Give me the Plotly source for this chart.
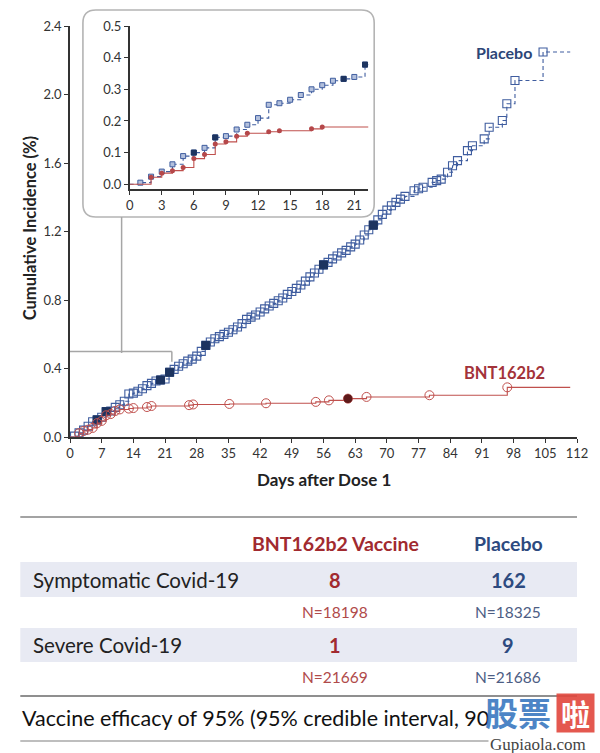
import plotly.graph_objects as go

# ---------------- data ----------------
placebo_days = [0, 1, 2, 3, 4, 5, 6, 7, 8, 9, 10, 11, 12, 13, 14, 15, 16, 17, 18, 19, 20, 21, 22,
                23, 24, 25, 26, 27, 28, 29, 30, 31, 32, 33, 34, 35, 36, 37, 38, 39, 40, 41, 42,
                43, 44, 45, 46, 47, 48, 49, 50, 51, 52, 53, 54, 55, 56, 57, 58, 59, 60, 61, 62,
                63, 64, 65, 66, 67, 68, 69, 70, 71, 72, 73, 74, 76, 77, 78, 80, 81, 82, 83.4,
                84.5, 85.6, 87.8, 88.9, 91.5, 92.6, 95.5, 96.5, 98.3, 104.5]
placebo_cum = [0.0, 0.005, 0.024, 0.040, 0.063, 0.089, 0.100, 0.115, 0.148, 0.152, 0.173, 0.188,
               0.209, 0.251, 0.256, 0.267, 0.282, 0.300, 0.313, 0.327, 0.333, 0.339, 0.378,
               0.395, 0.413, 0.428, 0.443, 0.455, 0.472, 0.500, 0.535, 0.555, 0.574, 0.586,
               0.599, 0.612, 0.626, 0.642, 0.662, 0.687, 0.700, 0.712, 0.730, 0.748, 0.765,
               0.780, 0.796, 0.812, 0.833, 0.850, 0.868, 0.888, 0.910, 0.935, 0.958, 0.980,
               1.005, 1.020, 1.040, 1.057, 1.075, 1.090, 1.110, 1.126, 1.150, 1.180, 1.210,
               1.237, 1.268, 1.300, 1.325, 1.350, 1.370, 1.389, 1.405, 1.438, 1.450, 1.458,
               1.487, 1.497, 1.506, 1.546, 1.584, 1.614, 1.672, 1.701, 1.741, 1.809, 1.848,
               1.946, 2.082, 2.248]
placebo_end_day = 110.5
placebo_severe_days = [6, 8, 20, 22, 30, 56, 67]

vaccine_days = [0, 2, 3, 4, 5, 6, 7, 8, 9, 10, 11, 13, 14, 17, 18, 26.3, 27.2, 35.2, 43.3,
                54.3, 57.2, 61.4, 65.5, 79.4, 96.6]
vaccine_cum = [0.0, 0.022, 0.035, 0.043, 0.053, 0.081, 0.094, 0.127, 0.134, 0.152, 0.161,
               0.166, 0.169, 0.175, 0.181, 0.186, 0.190, 0.193, 0.197, 0.205, 0.214, 0.224,
               0.234, 0.244, 0.290]
vaccine_end_day = 110.5
vaccine_severe_days = [61.4]

main_xticks = list(range(0, 113, 7))
main_yticks = [0.0, 0.4, 0.8, 1.2, 1.6, 2.0, 2.4]
inset_xticks = list(range(0, 22, 3))
inset_yticks = [0.0, 0.1, 0.2, 0.3, 0.4, 0.5]

table_groups = ["BNT162b2 Vaccine", "Placebo"]
table_rows = ["Symptomatic Covid-19", "Severe Covid-19"]
table_cases = [[8, 162], [1, 9]]
table_n = [[18198, 18325], [21669, 21686]]
efficacy_text = "Vaccine efficacy of 95% (95% credible interval, 90"

# ---------------- styling ----------------
FONT = "Lato"
BLUE = "#3f5d9f"
NAVY = "#1d3460"
BLUE_TXT = "#2c4677"
RED = "#c0504d"
RED_DARK = "#5e1a1a"
RED_TXT = "#a3333a"
GRAY = "#a6a6a6"
AX = "#333333"

# pixel frame of the main plotting area
PL, PR, PT, PB = 70, 580, 26, 437


def pxx(x):
    return (x - PL) / (PR - PL)


def pxy(y):
    return (PB - y) / (PB - PT)


def step_at(days, vals, d):
    v = vals[0]
    for dd, vv in zip(days, vals):
        if dd <= d + 1e-9:
            v = vv
    return v


fig = go.Figure()


def add_series(xa, ya, inset):
    fig.add_trace(go.Scatter(
        x=placebo_days + [placebo_end_day], y=placebo_cum + [placebo_cum[-1]],
        mode="lines", line=dict(color=BLUE, width=1.1, dash="4px,3px", shape="hv"),
        xaxis=xa, yaxis=ya, showlegend=False, hoverinfo="skip"))
    if inset:
        pm = dict(symbol="square", size=5, color="#b3c0dc", line=dict(color=BLUE, width=1))
    else:
        pm = dict(symbol="square-open", size=8, color=BLUE, line=dict(color=BLUE, width=1.1))
    fig.add_trace(go.Scatter(
        x=placebo_days[1:], y=placebo_cum[1:], mode="markers", marker=pm,
        xaxis=xa, yaxis=ya, showlegend=False))
    fig.add_trace(go.Scatter(
        x=placebo_severe_days,
        y=[step_at(placebo_days, placebo_cum, d) for d in placebo_severe_days],
        mode="markers",
        marker=dict(symbol="square", size=5 if inset else 8, color=NAVY,
                    line=dict(color=NAVY, width=1)),
        xaxis=xa, yaxis=ya, showlegend=False))
    fig.add_trace(go.Scatter(
        x=vaccine_days + [vaccine_end_day], y=vaccine_cum + [vaccine_cum[-1]],
        mode="lines", line=dict(color=RED, width=1.1, shape="hv"),
        xaxis=xa, yaxis=ya, showlegend=False, hoverinfo="skip"))
    if inset:
        vm = dict(symbol="circle", size=5, color="#b5484a", line=dict(width=0))
    else:
        vm = dict(symbol="circle-open", size=9, color=RED, line=dict(color=RED, width=1))
    fig.add_trace(go.Scatter(
        x=vaccine_days[1:], y=vaccine_cum[1:], mode="markers", marker=vm,
        xaxis=xa, yaxis=ya, showlegend=False))
    if not inset:
        fig.add_trace(go.Scatter(
            x=vaccine_severe_days,
            y=[step_at(vaccine_days, vaccine_cum, d) for d in vaccine_severe_days],
            mode="markers",
            marker=dict(symbol="circle", size=8, color=RED_DARK, line=dict(color=RED_DARK, width=1)),
            xaxis=xa, yaxis=ya, showlegend=False))


add_series("x", "y", False)
add_series("x2", "y2", True)

axis_common = dict(showline=True, linecolor=AX, linewidth=1.5, ticks="outside", ticklen=4,
                   tickwidth=1.2, tickcolor=AX, showgrid=False, zeroline=False,
                   tickfont=dict(family=FONT, size=13, color=AX))

fig.update_layout(
    width=600, height=753, autosize=False,
    margin=dict(l=PL, r=600 - PR, t=PT, b=753 - PB),
    paper_bgcolor="white", plot_bgcolor="rgba(0,0,0,0)",
    xaxis=dict(range=[0, 112], tickvals=main_xticks, domain=[0, 1], anchor="y", **axis_common),
    yaxis=dict(range=[0, 2.4], tickvals=main_yticks, tickformat=".1f", domain=[0, 1],
               anchor="x", **axis_common),
    xaxis2=dict(range=[0, 22.3], tickvals=inset_xticks, domain=[pxx(130), pxx(370)],
                anchor="y2", **axis_common),
    yaxis2=dict(range=[-0.015, 0.5], tickvals=inset_yticks, tickformat=".1f",
                domain=[pxy(189), 1.0], anchor="x2", **axis_common),
    showlegend=False,
)

shapes = []
x0, x1, y0, y1, r = 83, 376, 10, 217, 13


def P(x, y):
    return f"{pxx(x):.5f},{pxy(y):.5f}"


path = (f"M {P(x0 + r, y0)} L {P(x1 - r, y0)} Q {P(x1, y0)} {P(x1, y0 + r)} "
        f"L {P(x1, y1 - r)} Q {P(x1, y1)} {P(x1 - r, y1)} L {P(x0 + r, y1)} "
        f"Q {P(x0, y1)} {P(x0, y1 - r)} L {P(x0, y0 + r)} Q {P(x0, y0)} {P(x0 + r, y0)} Z")
shapes.append(dict(type="path", path=path, xref="paper", yref="paper",
                   line=dict(color="#b4b4b4", width=1.6), layer="below"))
shapes.append(dict(type="line", xref="x", yref="y", x0=0, x1=22.5, y0=0.5, y1=0.5,
                   line=dict(color=GRAY, width=1.5)))
shapes.append(dict(type="line", xref="x", yref="y", x0=22.5, x1=22.5, y0=0.5, y1=0.44,
                   line=dict(color=GRAY, width=1.5)))
shapes.append(dict(type="line", xref="x", yref="paper", x0=11.4, x1=11.4, y0=pxy(353),
                   y1=pxy(217), line=dict(color=GRAY, width=1.5)))

for top, bot in [(562, 597), (628, 662)]:
    shapes.append(dict(type="rect", xref="paper", yref="paper", x0=pxx(20), x1=pxx(580),
                       y0=pxy(bot), y1=pxy(top), fillcolor="#e8eaf3", line=dict(width=0),
                       layer="below"))
for yy, col, w in [(517, "#a3a3a3", 1.8), (696, "#8f8f8f", 2.0), (741, "#a8a8a8", 1.6)]:
    shapes.append(dict(type="line", xref="paper", yref="paper", x0=pxx(20), x1=pxx(580),
                       y0=pxy(yy), y1=pxy(yy), line=dict(color=col, width=w)))

ann = []
ann.append(dict(x=placebo_days[-1], y=placebo_cum[-1], xref="x", yref="y", text="<b>Placebo</b>",
                showarrow=False, xanchor="right", yanchor="middle", xshift=-9,
                font=dict(family=FONT, size=16, color=BLUE_TXT)))
ann.append(dict(x=96, y=0.376, xref="x", yref="y", text="<b>BNT162b2</b>",
                showarrow=False, xanchor="center", yanchor="middle",
                font=dict(family=FONT, size=16.5, color=RED_TXT)))
ann.append(dict(x=pxx(30), y=pxy(228), xref="paper", yref="paper",
                text="<b>Cumulative Incidence (%)</b>", textangle=-90, showarrow=False,
                xanchor="center", yanchor="middle", font=dict(family=FONT, size=16.5, color="#222")))
ann.append(dict(x=pxx(325), y=pxy(479), xref="paper", yref="paper",
                text="<b>Days after Dose 1</b>", showarrow=False,
                xanchor="center", yanchor="middle", font=dict(family=FONT, size=17, color="#222")))

col_x = [337, 511]
col_case_col = ["#a12a2f", "#2d4a7f"]
col_n_col = ["#b04a4a", "#4d5d84"]
for j, g in enumerate(table_groups):
    ann.append(dict(x=pxx(col_x[j]), y=pxy(543), xref="paper", yref="paper", text=f"<b>{g}</b>",
                    showarrow=False, xanchor="center", yanchor="middle",
                    font=dict(family=FONT, size=19.5, color=col_case_col[j])))
row_y = [580, 645]
n_y = [612, 677]
for i, rname in enumerate(table_rows):
    ann.append(dict(x=pxx(31), y=pxy(row_y[i]), xref="paper", yref="paper", text=rname,
                    showarrow=False, xanchor="left", yanchor="middle",
                    font=dict(family=FONT, size=20.5, color="#222")))
    for j in range(2):
        ann.append(dict(x=pxx(col_x[j]), y=pxy(row_y[i]), xref="paper", yref="paper",
                        text=f"<b>{table_cases[i][j]}</b>", showarrow=False, xanchor="center",
                        yanchor="middle", font=dict(family=FONT, size=20, color=col_case_col[j])))
        ann.append(dict(x=pxx(col_x[j]), y=pxy(n_y[i]), xref="paper", yref="paper",
                        text=f"N={table_n[i][j]}", showarrow=False, xanchor="center",
                        yanchor="middle", font=dict(family=FONT, size=15.5, color=col_n_col[j])))
ann.append(dict(x=pxx(20), y=pxy(718), xref="paper", yref="paper", text=efficacy_text,
                showarrow=False, xanchor="left", yanchor="middle",
                font=dict(family=FONT, size=21.5, color="#111")))

# watermark
ann.append(dict(x=pxx(485), y=pxy(712), xref="paper", yref="paper", text="<b>股票</b>",
                showarrow=False, xanchor="left", yanchor="middle", opacity=0.9,
                font=dict(family="Noto Sans CJK SC", size=33, color="#3a78c0")))
ann.append(dict(x=pxx(578), y=pxy(713), xref="paper", yref="paper", text="<b>啦</b>",
                showarrow=False, xanchor="center", yanchor="middle", opacity=0.9,
                bgcolor="#e2473d", width=37, height=38, borderpad=0,
                font=dict(family="Noto Sans CJK SC", size=29, color="white")))
ann.append(dict(x=pxx(541), y=pxy(744), xref="paper", yref="paper", text="Gupiaola.com",
                showarrow=False, xanchor="center", yanchor="middle", bgcolor="white",
                font=dict(family="Liberation Serif", size=17, color="#444")))

fig.update_layout(shapes=shapes, annotations=ann)
fig.write_html("out.html", config={"displayModeBar": False},
               post_script="document.body.style.margin='0px';document.body.style.overflow='hidden';")
